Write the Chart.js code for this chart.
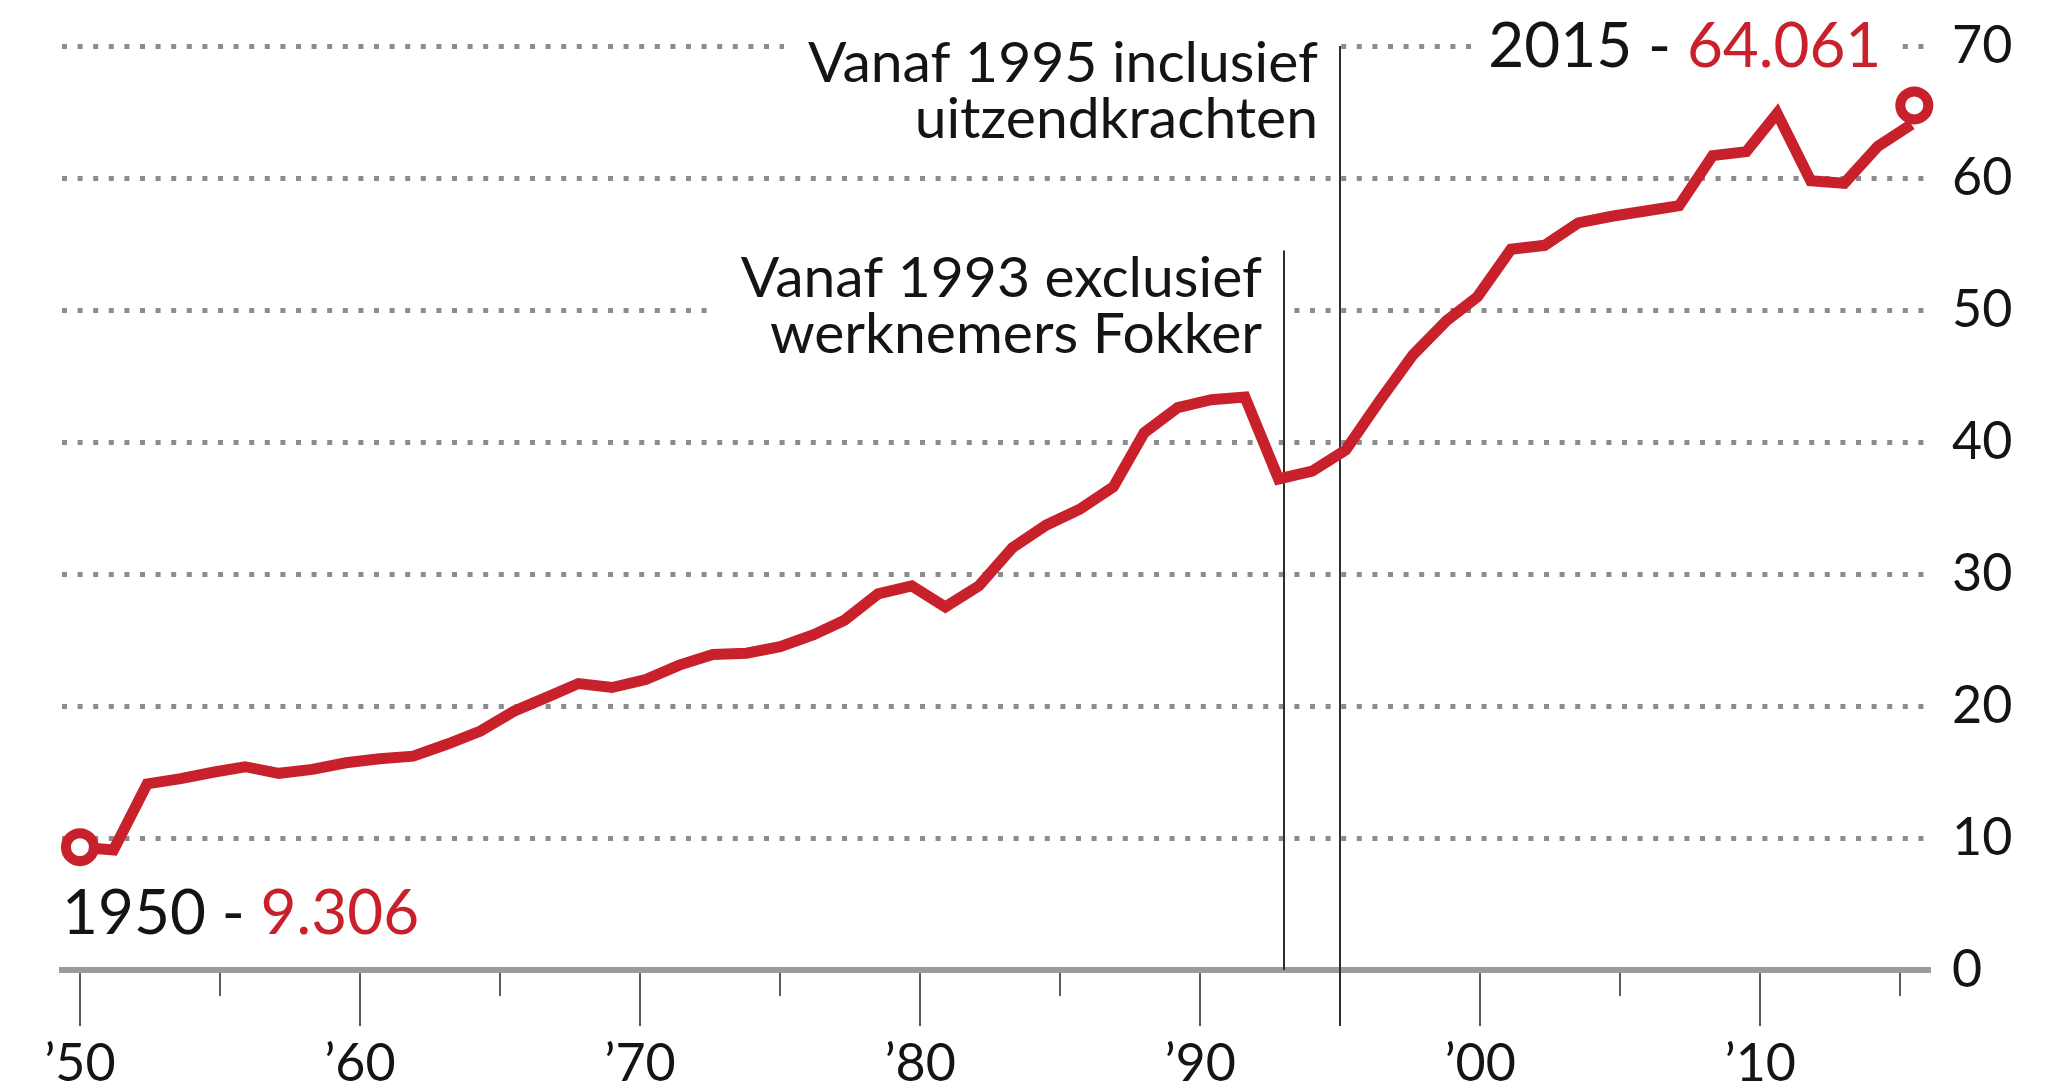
<!DOCTYPE html>
<html>
<head>
<meta charset="utf-8">
<script src="https://cdn.jsdelivr.net/npm/chart.js@4.4.0/dist/chart.umd.min.js"></script>
<style>
  html, body { margin: 0; padding: 0; background: #fff; }
</style>
</head>
<body>
<canvas id="chart" width="2064" height="1087"></canvas>
<script>
// where each point sits on the year axis
const years = [
  1950.0, 1951.2, 1952.4, 1953.6, 1954.8, 1955.9, 1957.1, 1958.3, 1959.5, 1960.7,
  1961.9, 1963.1, 1964.3, 1965.5, 1966.6, 1967.8, 1969.0, 1970.2, 1971.4, 1972.6,
  1973.8, 1975.0, 1976.2, 1977.3, 1978.5, 1979.7, 1980.9, 1982.1, 1983.3, 1984.5,
  1985.7, 1986.9, 1988.0, 1989.2, 1990.4, 1991.6, 1992.8, 1994.0, 1995.2, 1996.4,
  1997.6, 1998.8, 1999.9, 2001.1, 2002.3, 2003.5, 2004.7, 2005.9, 2007.1, 2008.3,
  2009.5, 2010.6, 2011.8, 2013.0, 2014.2, 2015.4
];
// employees, x 1000
const values = [
  9.306, 9.1, 14.1, 14.5, 15.0, 15.4, 14.9, 15.2, 15.7, 16.0,
  16.2, 17.1, 18.1, 19.6, 20.6, 21.7, 21.4, 22.0, 23.1, 23.9,
  24.0, 24.5, 25.4, 26.5, 28.5, 29.1, 27.5, 29.1, 32.0, 33.7,
  34.9, 36.6, 40.7, 42.6, 43.2, 43.4, 37.2, 37.8, 39.4, 43.1,
  46.6, 49.2, 51.0, 54.6, 54.9, 56.6, 57.1, 57.5, 57.9, 61.7,
  62.0, 64.9, 59.8, 59.6, 62.4, 64.061
];
// open rings at start and end
const markerYears = [1950, 2015.5];
const markerValues = [9.306, 65.5];

const xTicks = [1950, 1960, 1970, 1980, 1990, 2000, 2010];
const minorTicks = [1955, 1965, 1975, 1985, 1995, 2005, 2015];
const yTicks = [0, 10, 20, 30, 40, 50, 60, 70];

const startLabel = ["1950 - ", "9.306"];
const endLabel = ["2015 - ", "64.061"];

const notes = [
  { year: 1993, top: 54.5, baseline: 51.0, lines: ["Vanaf 1993 exclusief", "werknemers Fokker"] },
  { year: 1995, top: 70, baseline: 67.3, lines: ["Vanaf 1995 inclusief", "uitzendkrachten"] }
];

const FONT = "Lato";
const RED = "#c8212c";
const INK = "#141414";

// no extra padding from labels, the chart area is set by the layout padding
const noPad = s => { s.paddingLeft = s.paddingRight = s.paddingTop = s.paddingBottom = 0; };

const decor = {
  id: "decor",
  beforeDatasetsDraw(chart) {
    const { ctx, scales: { x, y } } = chart;
    const axisY = y.getPixelForValue(0);
    ctx.save();

    // tick marks under the axis
    ctx.strokeStyle = "#5c5c5c";
    ctx.lineWidth = 2;
    xTicks.concat(minorTicks).forEach(t => {
      const px = Math.round(x.getPixelForValue(t));
      const len = xTicks.includes(t) ? 56 : 26;
      ctx.beginPath();
      ctx.moveTo(px, axisY + 3);
      ctx.lineTo(px, axisY + len);
      ctx.stroke();
    });

    // notes with their break lines
    ctx.font = `57px ${FONT}`;
    ctx.textAlign = "right";
    ctx.textBaseline = "alphabetic";
    notes.forEach(n => {
      const lx = Math.round(x.getPixelForValue(n.year));
      const right = lx - 22;
      const base = y.getPixelForValue(n.baseline);
      const w = Math.max(...n.lines.map(l => ctx.measureText(l).width));
      const lastBase = base + (n.lines.length - 1) * 56.5;
      ctx.fillStyle = "#fff";
      ctx.fillRect(right - w - 24, base - 50, lx - (right - w - 24), lastBase + 20 - (base - 50));
      ctx.fillStyle = INK;
      n.lines.forEach((l, i) => ctx.fillText(l, right, base + i * 56.5));
      ctx.strokeStyle = "#2e2e2e";
      ctx.lineWidth = 2;
      ctx.beginPath();
      ctx.moveTo(lx, y.getPixelForValue(n.top));
      ctx.lineTo(lx, n.year % 5 === 0 ? axisY + 56 : axisY);
      ctx.stroke();
    });

    // first / last value labels
    ctx.font = `62px ${FONT}`;
    ctx.textAlign = "left";
    const drawPair = (parts, left, base) => {
      ctx.fillStyle = INK;
      ctx.fillText(parts[0], left, base);
      ctx.fillStyle = RED;
      ctx.fillText(parts[1], left + ctx.measureText(parts[0]).width, base);
    };
    drawPair(startLabel, chart.chartArea.left, axisY - 36);

    const endW = ctx.measureText(endLabel[0] + endLabel[1]).width;
    const endRight = x.getPixelForValue(markerYears[1]) - 33;
    const endBase = y.getPixelForValue(70) + 21;
    ctx.fillStyle = "#fff";
    ctx.fillRect(endRight - endW - 15, endBase - 52, endW + 34, 66);
    drawPair(endLabel, endRight - endW, endBase);

    ctx.restore();
  }
};

new Chart(document.getElementById("chart"), {
  type: "line",
  data: {
    datasets: [
      {
        data: years.map((yr, i) => ({ x: yr, y: values[i] })),
        borderColor: RED,
        borderWidth: 11,
        pointRadius: 0,
        fill: false,
        tension: 0,
        clip: false,
        order: 2
      },
      {
        data: markerYears.map((yr, i) => ({ x: yr, y: markerValues[i] })),
        showLine: false,
        pointRadius: 14,
        pointHoverRadius: 14,
        pointBorderWidth: 10,
        pointBackgroundColor: "#fff",
        pointBorderColor: RED,
        clip: false,
        order: 1
      }
    ]
  },
  options: {
    responsive: false,
    devicePixelRatio: 1,
    animation: false,
    events: [],
    layout: { padding: { left: 62, top: 46, right: 0, bottom: 0 } },
    plugins: { legend: { display: false }, tooltip: { enabled: false } },
    scales: {
      x: {
        type: "linear",
        min: 1949.36,
        max: 2016.06,
        afterBuildTicks: s => { s.ticks = xTicks.map(v => ({ value: v })); },
        afterFit: s => { s.height = 117; noPad(s); },
        ticks: {
          callback: v => "\u2019" + String(v).slice(2),
          font: { family: FONT, size: 52 },
          color: INK,
          padding: 63,
          maxRotation: 0,
          autoSkip: false
        },
        grid: { display: false, drawTicks: false },
        border: { display: true, color: "#9b9b9b", width: 6 }
      },
      y: {
        position: "right",
        min: 0,
        max: 70,
        afterBuildTicks: s => { s.ticks = yTicks.map(v => ({ value: v })); },
        afterFit: s => { s.width = 134; noPad(s); },
        ticks: {
          font: { family: FONT, size: 52 },
          color: INK,
          padding: 22
        },
        grid: {
          drawTicks: false,
          lineWidth: 5,
          color: c => (c.tick && c.tick.value === 0) ? "rgba(0,0,0,0)" : "#8c8c8c"
        },
        border: { display: false, dash: [5, 10.6] }
      }
    }
  },
  plugins: [decor]
});
</script>
</body>
</html>
